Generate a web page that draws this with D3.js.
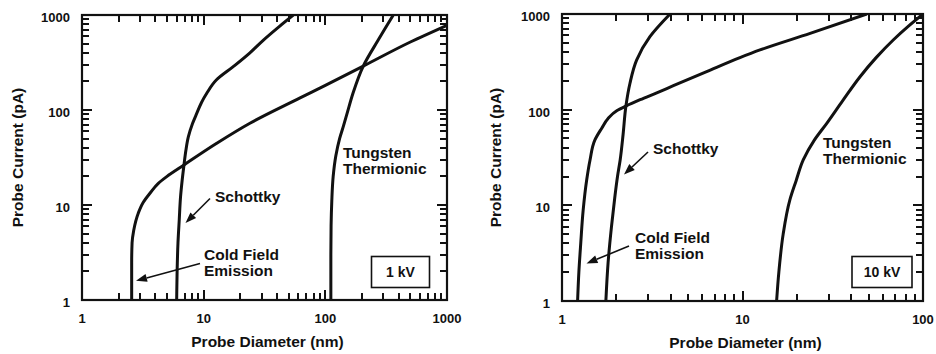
<!DOCTYPE html>
<html>
<head>
<meta charset="utf-8">
<script src="https://cdn.jsdelivr.net/npm/d3@7"></script>
<style>
  html, body { margin: 0; padding: 0; background: #fff; }
  svg { display: block; }
  text { font-family: "Liberation Sans", Arial, Helvetica, sans-serif; font-weight: bold; fill: #111; }
</style>
</head>
<body>
<svg id="chart" width="936" height="354"></svg>
<script>
// ---- Data (probe diameter nm, probe current pA) ----
const yTicks = [1, 10, 100, 1000];
const xTicks1kV = [1, 10, 100, 1000];
const xTicks10kV = [1, 10, 100];

const coldField1kV = [[2.56,1],[2.56,2.5],[2.58,4],[2.66,5.4],[2.9,8.2],[3.19,10.7],[3.62,13.3],[4.24,16.9],[4.97,19.9],[6.89,26.4],[12.8,44.6],[24,72.5],[62,134],[100,182],[205,290],[500,520],[1000,780]];
const schottky1kV = [[6.0,1],[6.05,2],[6.15,4],[6.3,7],[6.45,12],[6.65,18],[6.89,26.4],[7.15,38],[7.48,52],[8.1,72],[8.77,92],[9.6,120],[10.6,150],[12.7,207],[17.5,286],[24,400],[31,545],[42,760],[54.6,1000]];
const tungsten1kV = [[111,1],[111,3],[111.5,6],[113,11],[116,20],[122,33],[131,50],[141,68],[152,95],[169,151],[205,290],[272,545],[362,1000]];

const coldField10kV = [[1.22,1],[1.24,2],[1.27,4],[1.31,8.9],[1.37,18.4],[1.43,29.8],[1.52,48],[1.66,64],[1.8,81],[2.01,97.5],[2.26,109],[2.71,127],[3.35,150],[4.14,178],[6.33,250],[9.68,350],[12.5,421],[23.7,628],[48.8,1000]];
const schottky10kV = [[1.75,1],[1.8,2.5],[1.88,6],[1.96,12],[2.03,20],[2.10,29.8],[2.18,55],[2.26,109],[2.38,189],[2.59,330],[3.07,579],[3.97,1000]];
const tungsten10kV = [[15.45,1],[15.9,2],[16.8,5],[18.3,11.4],[19.8,18],[21.7,29.8],[25,48],[29.3,72],[36,125],[44.8,221],[55,350],[68.4,535],[84,760],[100,1000]];

const panels = [
  { x0: 82, x1: 447, y0: 15, y1: 300, xDomain: [1, 1000], xTicks: xTicks1kV,
    series: [coldField1kV, schottky1kV, tungsten1kV],
    yTitleX: 18, xTitleY: 347,
    labels: [
      { t: ["Tungsten", "Thermionic"], x: 343, y: 158 },
      { t: ["Schottky"], x: 215, y: 201.5 },
      { t: ["Cold Field", "Emission"], x: 204, y: 260 }
    ],
    arrows: [ [210, 198.5, 185.5, 223], [200, 263.5, 136, 280.8] ],
    box: { x: 371.5, y: 256.5, w: 58, h: 31, t: "1 kV" } },
  { x0: 562, x1: 923, y0: 14, y1: 301, xDomain: [1, 100], xTicks: xTicks10kV,
    series: [coldField10kV, schottky10kV, tungsten10kV],
    yTitleX: 496, xTitleY: 348,
    labels: [
      { t: ["Tungsten", "Thermionic"], x: 823, y: 148 },
      { t: ["Schottky"], x: 653, y: 154 },
      { t: ["Cold Field", "Emission"], x: 635, y: 242.5 }
    ],
    arrows: [ [648, 152, 624, 174.5], [629, 246, 586.5, 263.5] ],
    box: { x: 852, y: 256.5, w: 60, h: 31, t: "10 kV" } }
];

const svg = d3.select("#chart");

function minorTicks(domain) {
  const out = [];
  for (let dec = domain[0]; dec < domain[1]; dec *= 10) {
    for (let k = 2; k <= 9; k++) out.push(dec * k);
  }
  return out;
}

panels.forEach((p, i) => {
  const x = d3.scaleLog().domain(p.xDomain).range([p.x0, p.x1]);
  const y = d3.scaleLog().domain([1, 1000]).range([p.y1, p.y0]);
  const g = svg.append("g");

  // frame
  g.append("rect").attr("x", p.x0).attr("y", p.y0)
    .attr("width", p.x1 - p.x0).attr("height", p.y1 - p.y0)
    .attr("fill", "none").attr("stroke", "#111").attr("stroke-width", 2.2);

  // tick labels
  g.selectAll(".xl").data(p.xTicks).enter().append("text")
    .attr("x", d => x(d)).attr("y", p.y1 + 23)
    .attr("text-anchor", "middle").attr("font-size", 13).text(d => d);
  g.selectAll(".yl").data(yTicks).enter().append("text")
    .attr("x", p.x0 - 12).attr("y", d => y(d) + 7)
    .attr("text-anchor", "end").attr("font-size", 13).text(d => d);

  // axis titles
  g.append("text").attr("x", (p.x0 + p.x1) / 2 + 3).attr("y", p.xTitleY)
    .attr("text-anchor", "middle").attr("font-size", 15.5).text("Probe Diameter (nm)");
  g.append("text")
    .attr("transform", `translate(${p.yTitleX + 5},${(p.y0 + p.y1) / 2}) rotate(-90)`)
    .attr("text-anchor", "middle").attr("font-size", 15.5).text("Probe Current (pA)");

  // curves, clamped to the plot by the clip rectangle
  const clipId = "clip" + i;
  g.append("clipPath").attr("id", clipId)
    .append("rect").attr("x", p.x0).attr("y", p.y0)
    .attr("width", p.x1 - p.x0).attr("height", p.y1 - p.y0);
  const line = d3.line().x(d => x(d[0])).y(d => y(d[1])).curve(d3.curveMonotoneY);
  g.append("g").attr("clip-path", `url(#${clipId})`)
    .selectAll("path").data(p.series.map(s => s.slice().reverse())).enter().append("path")
    .attr("d", line).attr("fill", "none").attr("stroke", "#111")
    .attr("stroke-width", 3).attr("stroke-linejoin", "round");

  // labels
  p.labels.forEach(l => {
    const t = g.append("text").attr("font-size", 15.5);
    l.t.forEach((s, k) => t.append("tspan").attr("x", l.x).attr("y", l.y + k * 16).text(s));
  });

  // arrows: shaft + filled head
  p.arrows.forEach(a => {
    const ang = Math.atan2(a[3] - a[1], a[2] - a[0]);
    const L = 11, W = 4;
    const bx = a[2] - L * Math.cos(ang), by = a[3] - L * Math.sin(ang);
    g.append("line").attr("x1", a[0]).attr("y1", a[1]).attr("x2", bx).attr("y2", by)
      .attr("stroke", "#111").attr("stroke-width", 1.6);
    g.append("path")
      .attr("d", `M${a[2]},${a[3]}L${bx + W * Math.sin(ang)},${by - W * Math.cos(ang)}L${bx - W * Math.sin(ang)},${by + W * Math.cos(ang)}Z`)
      .attr("fill", "#111");
  });

  // box
  g.append("rect").attr("x", p.box.x).attr("y", p.box.y).attr("width", p.box.w).attr("height", p.box.h)
    .attr("fill", "#fff").attr("stroke", "#111").attr("stroke-width", 1.6);
  g.append("text").attr("x", p.box.x + p.box.w / 2).attr("y", p.box.y + 20.5)
    .attr("text-anchor", "middle").attr("font-size", 14).text(p.box.t);

  // inward ticks on all four sides, drawn last
  const xt = [...minorTicks(p.xDomain).map(v => ({ v, len: 7 })), ...p.xTicks.map(v => ({ v, len: 10 }))];
  const yt = [...minorTicks([1, 1000]).map(v => ({ v, len: 7 })), ...yTicks.map(v => ({ v, len: 10 }))];
  const tk = g.append("g").attr("stroke", "#111").attr("stroke-width", 2)
    .attr("shape-rendering", "crispEdges");
  tk.selectAll(".tb").data(xt).enter().append("line")
    .attr("x1", d => Math.round(x(d.v))).attr("x2", d => Math.round(x(d.v)))
    .attr("y1", p.y1).attr("y2", d => p.y1 - d.len);
  tk.selectAll(".tt").data(xt).enter().append("line")
    .attr("x1", d => Math.round(x(d.v))).attr("x2", d => Math.round(x(d.v)))
    .attr("y1", p.y0).attr("y2", d => p.y0 + d.len);
  tk.selectAll(".tl").data(yt).enter().append("line")
    .attr("y1", d => Math.round(y(d.v))).attr("y2", d => Math.round(y(d.v)))
    .attr("x1", p.x0).attr("x2", d => p.x0 + d.len);
  tk.selectAll(".tr").data(yt).enter().append("line")
    .attr("y1", d => Math.round(y(d.v))).attr("y2", d => Math.round(y(d.v)))
    .attr("x1", p.x1).attr("x2", d => p.x1 - d.len);
});
</script>
</body>
</html>
